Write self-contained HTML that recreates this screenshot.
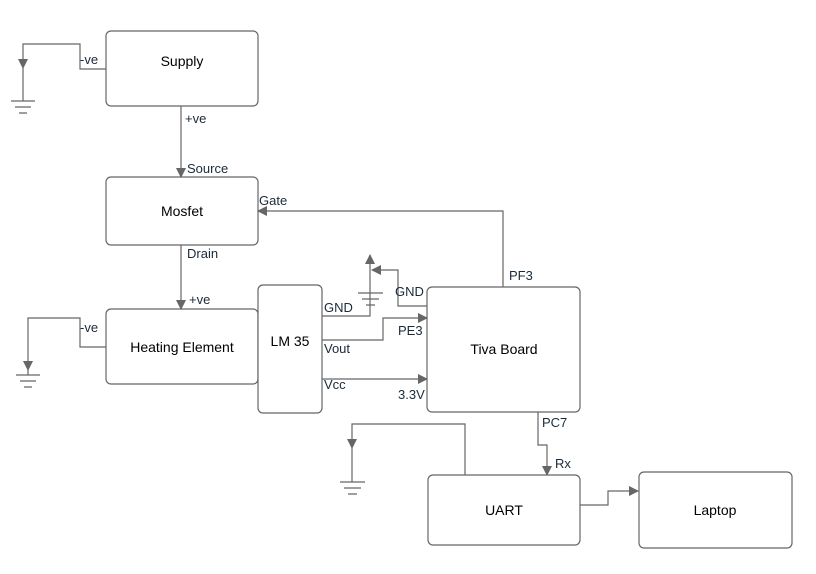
<!DOCTYPE html>
<html><head><meta charset="utf-8"><style>
html,body{margin:0;padding:0;background:#fff;}
svg{display:block;font-family:"Liberation Sans",Arial,sans-serif;}
</style></head><body>
<svg width="816" height="574" viewBox="0 0 816 574" xmlns="http://www.w3.org/2000/svg">
<defs>
<marker id="a" markerWidth="10" markerHeight="10" refX="9" refY="5" orient="auto" markerUnits="userSpaceOnUse">
<path d="M0,0 L10,5 L0,10 z" fill="#666"/></marker>
</defs>
<g fill="#fff" stroke="#666" stroke-width="1.2">
<rect x="106" y="31" width="152" height="75" rx="5"/>
<rect x="106" y="177" width="152" height="68" rx="5"/>
<rect x="106" y="309" width="152" height="75" rx="5"/>
<rect x="258" y="285" width="64" height="128" rx="5"/>
<rect x="427" y="287" width="153" height="125" rx="5"/>
<rect x="428" y="475" width="152" height="70" rx="5"/>
<rect x="639" y="472" width="153" height="76" rx="5"/>
</g>
<g fill="none" stroke="#666" stroke-width="1.2">
<path d="M181,106 V177" marker-end="url(#a)"/>
<path d="M181,245 V309" marker-end="url(#a)"/>
<path d="M503,287 V211 H258" marker-end="url(#a)"/>
<path d="M106,69 H80 V44 H23 V68" marker-end="url(#a)"/>
<path d="M23,68 V101 M11,101 H35 M15,107 H31 M19,113 H27"/>
<path d="M106,347 H80 V318 H28 V370" marker-end="url(#a)"/>
<path d="M28,370 V375 M16,375 H40 M20,381 H36 M24,387 H32"/>
<path d="M322,316 H370 V255" marker-end="url(#a)"/>
<path d="M358,293 H383 M362,299 H379 M366,305 H375"/>
<path d="M427,306 H398 V270 H372" marker-end="url(#a)"/>
<path d="M322,340 H383 V318 H427" marker-end="url(#a)"/>
<path d="M322,379 H427" marker-end="url(#a)"/>
<path d="M538,412 V445 H547 V475" marker-end="url(#a)"/>
<path d="M465,475 V424 H352 V448" marker-end="url(#a)"/>
<path d="M352,448 V482 M340,482 H365 M344,488 H361 M348,494 H357"/>
<path d="M580,505 H608 V491 H638" marker-end="url(#a)"/>
</g>
<g font-size="14" fill="#000" text-anchor="middle">
<text x="182" y="66">Supply</text>
<text x="182" y="216">Mosfet</text>
<text x="182" y="352">Heating Element</text>
<text x="290" y="346">LM 35</text>
<text x="504" y="354">Tiva Board</text>
<text x="504" y="515">UART</text>
<text x="715" y="515">Laptop</text>
</g>
<g font-size="13" fill="#1a2a3a">
<text x="80" y="64">-ve</text>
<text x="185" y="123">+ve</text>
<text x="187" y="173">Source</text>
<text x="259" y="205">Gate</text>
<text x="187" y="258">Drain</text>
<text x="189" y="304">+ve</text>
<text x="80" y="332">-ve</text>
<text x="509" y="280">PF3</text>
<text x="324" y="312">GND</text>
<text x="395" y="296">GND</text>
<text x="398" y="335">PE3</text>
<text x="324" y="353">Vout</text>
<text x="324" y="389">Vcc</text>
<text x="398" y="399">3.3V</text>
<text x="542" y="427">PC7</text>
<text x="555" y="468">Rx</text>
</g>
</svg>
</body></html>
